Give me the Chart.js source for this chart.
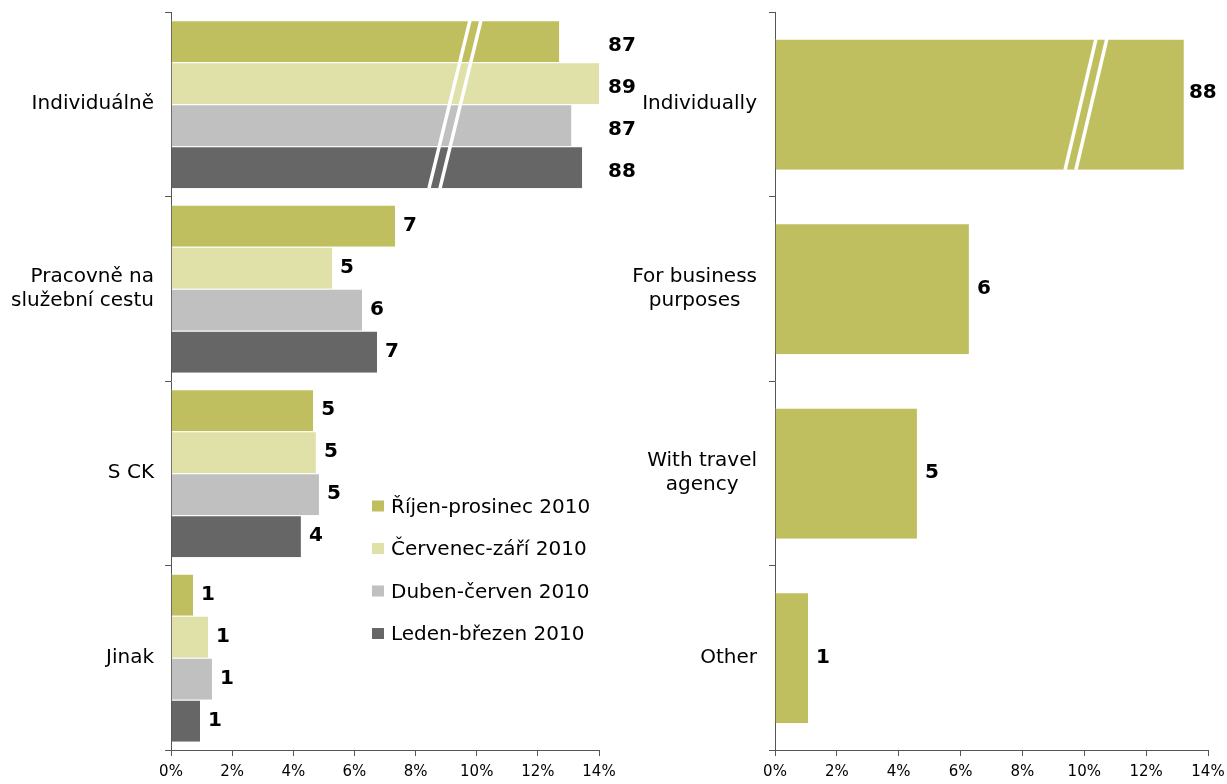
<!DOCTYPE html>
<html>
<head>
<meta charset="utf-8">
<title>Způsob cestování</title>
<script src="https://cdn.jsdelivr.net/npm/chart.js@4.4.1/dist/chart.umd.min.js"></script>
<style>
    html, body { margin: 0; padding: 0; background: #fff; }
    #wrap { position: relative; width: 1227px; height: 784px; overflow: hidden; }
    #leftBox { position: absolute; left: 0; top: 0; width: 640px; height: 784px; }
    #rightBox { position: absolute; left: 610px; top: 0; width: 617px; height: 784px; }
</style>
</head>
<body>
<div id="wrap">
    <div id="leftBox"><canvas id="leftChart"></canvas></div>
    <div id="rightBox"><canvas id="rightChart"></canvas></div>
</div>
<script>
// --- DATA ---
const leftCategories = ['Individuálně', ['Pracovně na', 'služební cestu'], 'S CK', 'Jinak'];
const rightCategories = ['Individually', ['For business', 'purposes'], ['With travel', 'agency'], 'Other'];
const seriesNames = ['Říjen-prosinec 2010', 'Červenec-září 2010', 'Duben-červen 2010', 'Leden-březen 2010'];

// bar lengths as drawn (first category is shown with a broken axis)
const rijenValues = [12.7, 7.33, 4.65, 0.72];
const cervenecValues = [14.0, 5.27, 4.74, 1.21];
const dubenValues = [13.1, 6.25, 4.84, 1.34];
const ledenValues = [13.45, 6.74, 4.25, 0.95];
const rightValues = [13.22, 6.27, 4.59, 1.07];

// numbers printed next to the bars
const rijenLabels = [87, 7, 5, 1];
const cervenecLabels = [89, 5, 5, 1];
const dubenLabels = [87, 6, 5, 1];
const ledenLabels = [88, 7, 4, 1];
const rightLabels = [88, 6, 5, 1];

const xTicks = [0, 2, 4, 6, 8, 10, 12, 14];

// --- STYLE ---
const FONT = '"DejaVu Sans", Verdana, sans-serif';
const colors = ['#C0BF60', '#E0E0A9', '#C0C0C0', '#666666'];
const axisColor = '#555555';

// --- PLUGINS ---
const breakMarks = {
    id: 'breakMarks',
    afterDatasetsDraw(chart, args, opts) {
        if (!opts.lines) return;
        const ctx = chart.ctx;
        const j = opts.index;
        const bars = chart.data.datasets.map((d, k) => chart.getDatasetMeta(k).data[j]);
        const first = bars[0], last = bars[bars.length - 1];
        const top = first.y - first.height / 2;
        const bottom = last.y + last.height / 2;
        const xs = chart.scales.x;
        ctx.save();
        ctx.strokeStyle = '#ffffff';
        ctx.lineWidth = 3.5;
        opts.lines.forEach(([vTop, vBottom]) => {
            ctx.beginPath();
            ctx.moveTo(xs.getPixelForValue(vTop), top);
            ctx.lineTo(xs.getPixelForValue(vBottom), bottom);
            ctx.stroke();
        });
        ctx.restore();
    }
};

const valueLabels = {
    id: 'valueLabels',
    afterDatasetsDraw(chart, args, opts) {
        const ctx = chart.ctx;
        ctx.save();
        ctx.font = 'bold 20px ' + FONT;
        ctx.fillStyle = '#000';
        ctx.textAlign = 'left';
        ctx.textBaseline = 'middle';
        chart.data.datasets.forEach((ds, i) => {
            const meta = chart.getDatasetMeta(i);
            meta.data.forEach((bar, j) => {
                let x = bar.x + opts.gap;
                let y = bar.y;
                if (j === opts.brokenIndex) {
                    const ends = chart.data.datasets.map((d, k) => chart.getDatasetMeta(k).data[j].x);
                    x = Math.max(...ends) + opts.brokenGap;
                    y += opts.brokenShift;
                }
                ctx.fillText(String(ds.valueLabels[j]), x, y);
            });
        });
        ctx.restore();
    }
};

const boxLegend = {
    id: 'boxLegend',
    afterDraw(chart, args, opts) {
        if (!opts.show) return;
        const ctx = chart.ctx;
        ctx.save();
        ctx.font = '20px ' + FONT;
        ctx.textAlign = 'left';
        ctx.textBaseline = 'middle';
        chart.data.datasets.forEach((ds, i) => {
            const y = opts.y + i * opts.step;
            ctx.fillStyle = ds.backgroundColor;
            ctx.fillRect(opts.x, y - 6, 12, 11);
            ctx.fillStyle = '#000';
            ctx.fillText(ds.label, opts.x + 19, y + 1);
        });
        ctx.restore();
    }
};

// category labels: block right aligned, lines centred inside the block
const blockLabels = {
    id: 'blockLabels',
    afterDraw(chart, args, opts) {
        if (!opts.show) return;
        const ctx = chart.ctx;
        const ys = chart.scales.y;
        ctx.save();
        ctx.font = '20px ' + FONT;
        ctx.fillStyle = '#000';
        ctx.textAlign = 'center';
        ctx.textBaseline = 'middle';
        const right = chart.chartArea.left - opts.gap;
        chart.data.labels.forEach((lab, i) => {
            const lines = Array.isArray(lab) ? lab : [lab];
            const w = Math.max(...lines.map(l => ctx.measureText(l).width));
            const cx = right - w / 2;
            const yc = ys.getPixelForValue(i);
            lines.forEach((l, k) => {
                ctx.fillText(l, cx, yc + (k - (lines.length - 1) / 2) * 24);
            });
        });
        ctx.restore();
    }
};

function makeOptions(cfg) {
    return {
        indexAxis: 'y',
        responsive: true,
        maintainAspectRatio: false,
        animation: false,
        layout: { padding: { top: 12, right: cfg.padRight, left: 0, bottom: 0 } },
        scales: {
            y: {
                grid: { drawOnChartArea: false, tickLength: 6, color: axisColor },
                border: { color: axisColor, width: 1 },
                ticks: { display: cfg.nativeLabels, font: { family: FONT, size: 20 }, color: '#000', padding: 11 },
                afterFit: s => {
                    s.width = cfg.axisWidth;
                    s.paddingTop = 0;
                    s.paddingBottom = 0;
                }
            },
            x: {
                min: 0,
                max: 14,
                afterBuildTicks: s => { s.ticks = xTicks.map(v => ({ value: v })); },
                ticks: { callback: v => v + '%', font: { family: FONT, size: 15 }, color: '#000', padding: 7, maxRotation: 0 },
                grid: { drawOnChartArea: false, tickLength: 6, color: axisColor },
                border: { color: axisColor, width: 1 },
                afterFit: s => {
                    s.height = 34;
                    s.paddingLeft = 0;
                    s.paddingRight = 0;
                }
            }
        },
        plugins: {
            legend: { display: false },
            tooltip: { enabled: false },
            breakMarks: { index: 0, lines: cfg.breakLines },
            valueLabels: { gap: 8, brokenIndex: 0, brokenGap: cfg.brokenGap, brokenShift: cfg.brokenShift },
            boxLegend: { show: cfg.legend, x: 372, y: 506.5, step: 42.5 },
            blockLabels: { show: !cfg.nativeLabels, gap: 18 }
        }
    };
}

function barStyle(color) {
    return {
        backgroundColor: color,
        borderColor: '#ffffff',
        borderWidth: { top: 1, right: 0, bottom: 0, left: 0 },
        borderSkipped: false
    };
}

function initCharts() {
    const leftCtx = document.getElementById('leftChart');
    const leftValues = [rijenValues, cervenecValues, dubenValues, ledenValues];
    const leftLabels = [rijenLabels, cervenecLabels, dubenLabels, ledenLabels];
    new Chart(leftCtx.getContext('2d'), {
        type: 'bar',
        data: {
            labels: leftCategories,
            datasets: seriesNames.map((name, i) => Object.assign({
                label: name,
                data: leftValues[i],
                valueLabels: leftLabels[i],
                barPercentage: 1.0,
                categoryPercentage: 0.91
            }, barStyle(colors[i])))
        },
        options: makeOptions({
            padRight: 41, axisWidth: 171, nativeLabels: true, legend: true,
            breakLines: [[9.78, 8.44], [10.14, 8.80]],
            brokenGap: 9, brokenShift: 5
        }),
        plugins: [breakMarks, valueLabels, boxLegend, blockLabels]
    });

    const rightCtx = document.getElementById('rightChart');
    new Chart(rightCtx.getContext('2d'), {
        type: 'bar',
        data: {
            labels: rightCategories,
            datasets: [Object.assign({
                label: 'Total',
                data: rightValues,
                valueLabels: rightLabels,
                barPercentage: 0.71,
                categoryPercentage: 1.0
            }, barStyle(colors[0]))]
        },
        options: makeOptions({
            padRight: 19, axisWidth: 165, nativeLabels: false, legend: false,
            breakLines: [[10.38, 9.38], [10.73, 9.73]],
            brokenGap: 5, brokenShift: -11
        }),
        plugins: [breakMarks, valueLabels, boxLegend, blockLabels]
    });
}

document.addEventListener('DOMContentLoaded', initCharts);
</script>
</body>
</html>
